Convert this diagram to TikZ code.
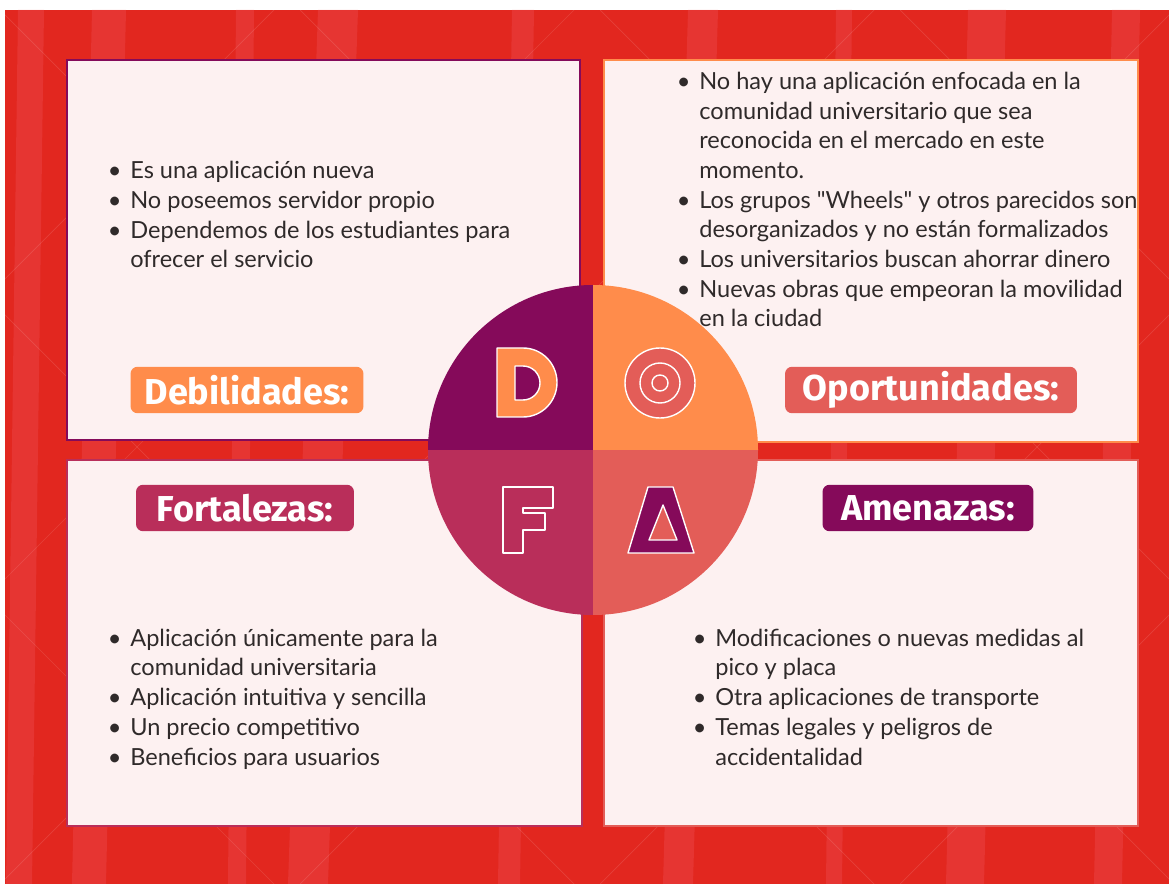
\documentclass[tikz,border=0pt]{standalone}
\usepackage{fontspec}
\setmainfont{Lato}
\newfontfamily\tagfont{Fira Sans}

\definecolor{bgred}{HTML}{E2271F}
\definecolor{streak}{HTML}{EC4A50}
\definecolor{paper}{HTML}{FDF1F1}
\definecolor{plum}{HTML}{850A5A}
\definecolor{tangerine}{HTML}{FF8C4B}
\definecolor{berry}{HTML}{B92E5A}
\definecolor{salmon}{HTML}{E35D58}
\definecolor{ink}{HTML}{2F2A2A}

\tikzset{
  card/.style={fill=paper, line width=1pt},
  tag/.style={rounded corners=4pt, text=white, inner sep=0pt, minimum height=0.93cm,
    font=\tagfont\bfseries\fontsize{20.5}{20.5}\selectfont},
  items/.style={anchor=base west, inner sep=0pt, align=left, text=ink,
    font=\fontsize{13.4}{16.9}\selectfont},
  glyph/.style={draw=white, line width=0.8pt, line join=round},
}
\newcommand\bul{\llap{\textbullet\hspace{5pt}}}

\begin{document}
\begin{tikzpicture}[x=0.02cm, y=-0.02cm]
  \useasboundingbox (0,0) rectangle (1169,884);

  % red backdrop with light streaks
  \fill[bgred] (5,10) rectangle (1169,884);
  \begin{scope}
    \clip (5,10) rectangle (1169,884);
    \foreach \sx/\w/\s in {18/26/-12, 92/34/-20, 236/18/-8, 318/40/-30, 512/22/-14,
                           688/30/-25, 836/16/-10, 968/38/-22, 1112/28/-18}
      \fill[streak, opacity=0.4] (\sx,10) -- ++(\w,0) -- ++(\s,874) -- ++(-\w,0) -- cycle;
    \foreach \sx in {-900,-600,...,1200}{
      \draw[white, opacity=0.12] (\sx,10) -- ++(874,874);
      \draw[white, opacity=0.12] (\sx+874,10) -- ++(-874,874);}
  \end{scope}

  % the four cards
  \draw[card, draw=plum] (67,60) rectangle (580,440);
  \draw[card, draw=tangerine] (604,60) rectangle (1138,442);
  \draw[card, draw=berry] (67,460) rectangle (582,826);
  \draw[card, draw=salmon] (604,460) rectangle (1138,826);

  % wheel in the middle
  \coordinate (hub) at (593,450);
  \begin{scope}
    \clip (hub) circle[radius=165];
    \fill[plum] (hub) rectangle ++(-170,-170);
    \fill[tangerine] (hub) rectangle ++(170,-170);
    \fill[berry] (hub) rectangle ++(-170,170);
    \fill[salmon] (hub) rectangle ++(170,170);
  \end{scope}

  % D
  \filldraw[glyph, fill=tangerine, even odd rule]
    (497,348) -- (523,348) arc[start angle=-90, end angle=90, x radius=34, y radius=34.5] -- (497,417) -- cycle
    (515,366) -- (523,366) arc[start angle=-90, end angle=90, x radius=17, y radius=17] -- (515,400) -- cycle;
  % O
  \fill[salmon] (660,383) circle[radius=35];
  \foreach \r in {35,20,8}
    \draw[white, line width=0.8pt] (660,383) circle[radius=\r];
  % F
  \filldraw[glyph, fill=berry] (503,487) -- (553,487) -- (553,508) -- (523,508) -- (523,513)
    -- (545,513) -- (545,530) -- (523,530) -- (523,553) -- (503,553) -- cycle;
  % A
  \filldraw[glyph, fill=plum, even odd rule] (648,487) -- (673,487) -- (694,553) -- (628,553) -- cycle
    (663,505) -- (677,540) -- (649,540) -- cycle;

  % headings
  \node[tag, fill=tangerine, minimum width=4.66cm] (debil) at (247,390) {Debilidades:};
  \node[tag, fill=salmon, minimum width=5.84cm] (oport) at (931,390) {Oportunidades:};
  \node[tag, fill=berry, minimum width=4.36cm] (forta) at (245,508) {Fortalezas:};
  \node[tag, fill=plum, minimum width=4.22cm] (amena) at (928,508) {Amenazas:};

  % lists (anchored at the last baseline)
  \node[items] (dlist) at (130,268) {\bul Es una aplicación nueva\\
    \bul No poseemos servidor propio\\
    \bul Dependemos de los estudiantes para\\
    ofrecer el servicio};
  \node[items] (olist) at (699,327) {\bul No hay una aplicación enfocada en la\\
    comunidad universitario que sea\\
    reconocida en el mercado en este\\
    momento.\\
    \bul Los grupos \textquotedbl Wheels\textquotedbl{} y otros parecidos son\\
    desorganizados y no están formalizados\\
    \bul Los universitarios buscan ahorrar dinero\\
    \bul Nuevas obras que empeoran la movilidad\\
    en la ciudad};
  \node[items] (flist) at (130,765) {\bul Aplicación únicamente para la\\
    comunidad universitaria\\
    \bul Aplicación intuitiva y sencilla\\
    \bul Un precio competitivo\\
    \bul Beneficios para usuarios};
  \node[items] (alist) at (715,765) {\bul Modificaciones o nuevas medidas al\\
    pico y placa\\
    \bul Otra aplicaciones de transporte\\
    \bul Temas legales y peligros de\\
    accidentalidad};
\end{tikzpicture}
\end{document}
